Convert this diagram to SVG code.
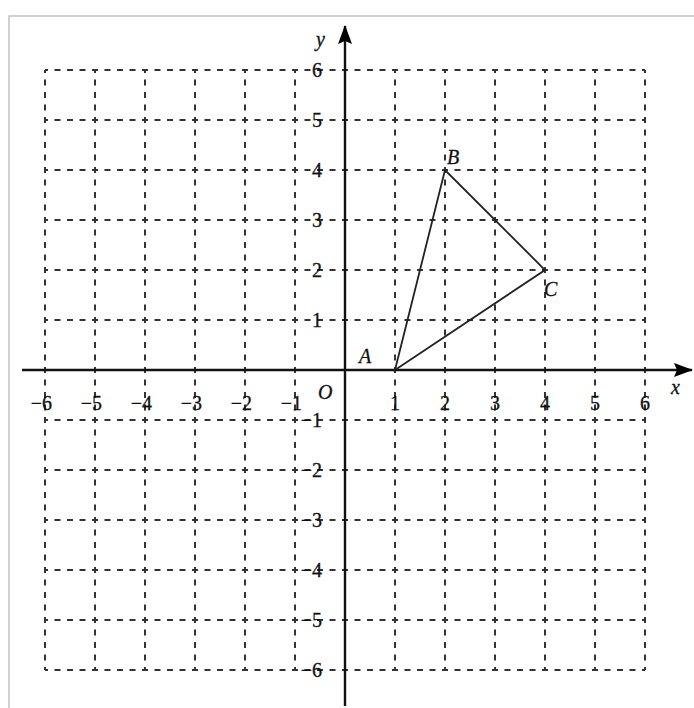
<svg xmlns="http://www.w3.org/2000/svg" width="694" height="708" viewBox="0 0 694 708">
<style>
.grid{stroke:#333;stroke-width:2;fill:none;stroke-dasharray:6 6.5;stroke-dashoffset:3}
.axis{stroke:#111;stroke-width:2.4;fill:none}
.tri{stroke:#222;stroke-width:1.8;fill:none}
text{font-family:"Liberation Serif","DejaVu Serif",serif;font-size:20px;fill:#111;stroke:#111;stroke-width:0.3}
.it{font-style:italic}
</style>
<defs>
<marker id="arr" markerWidth="20" markerHeight="16" refX="18" refY="8" orient="auto" markerUnits="userSpaceOnUse">
<path d="M0,1 L19,8 L0,15 L3,8 Z" fill="#000"/>
</marker>
</defs>
<rect x="9" y="16" width="690" height="700" fill="#fff" stroke="#c4c4c4" stroke-width="1.5"/>
<g id="grid">
<path class="grid" d="M45,70V670M95,70V670M145,70V670M195,70V670M245,70V670M295,70V670M395,70V670M445,70V670M495,70V670M545,70V670M595,70V670M645,70V670"/>
<path class="grid" d="M45,70H645M45,120H645M45,170H645M45,220H645M45,270H645M45,320H645M45,420H645M45,470H645M45,520H645M45,570H645M45,620H645M45,670H645"/>
</g>
<g id="connectors">
<line class="axis" x1="22" y1="370" x2="692" y2="370" marker-end="url(#arr)"/>
<line class="axis" x1="345" y1="706" x2="345" y2="26" marker-end="url(#arr)"/>
<path id="triangle" class="tri" d="M395,370L445,170L545,270Z"/>
</g>
<g id="xlabels">
<text x="52" y="410" text-anchor="end">−6</text>
<text x="102" y="410" text-anchor="end">−5</text>
<text x="152" y="410" text-anchor="end">−4</text>
<text x="202" y="410" text-anchor="end">−3</text>
<text x="252" y="410" text-anchor="end">−2</text>
<text x="302" y="410" text-anchor="end">−1</text>
<text x="395" y="410" text-anchor="middle">1</text>
<text x="445" y="410" text-anchor="middle">2</text>
<text x="495" y="410" text-anchor="middle">3</text>
<text x="545" y="410" text-anchor="middle">4</text>
<text x="595" y="410" text-anchor="middle">5</text>
<text x="645" y="410" text-anchor="middle">6</text>
</g>
<g id="ylabels">
<text x="322" y="77" text-anchor="end">6</text>
<text x="322" y="127" text-anchor="end">5</text>
<text x="322" y="177" text-anchor="end">4</text>
<text x="322" y="227" text-anchor="end">3</text>
<text x="322" y="277" text-anchor="end">2</text>
<text x="322" y="327" text-anchor="end">1</text>
<text x="322" y="427" text-anchor="end">−1</text>
<text x="322" y="477" text-anchor="end">−2</text>
<text x="322" y="527" text-anchor="end">−3</text>
<text x="322" y="577" text-anchor="end">−4</text>
<text x="322" y="627" text-anchor="end">−5</text>
<text x="322" y="677" text-anchor="end">−6</text>
</g>
<g id="axis-names">
<text class="it" x="316" y="46">y</text>
<text class="it" x="671" y="394">x</text>
<text class="it" x="318" y="399">O</text>
</g>
<g id="A"><text class="it" x="359" y="363">A</text></g>
<g id="B"><text class="it" x="447" y="164">B</text></g>
<g id="C"><text class="it" x="544" y="296">C</text></g>
</svg>
